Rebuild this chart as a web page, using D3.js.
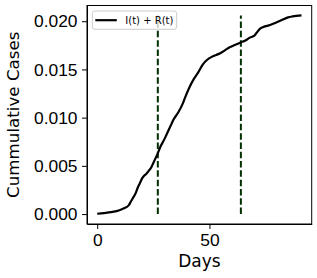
<!DOCTYPE html>
<html>
<head>
<meta charset="utf-8">
<script src="https://cdn.jsdelivr.net/npm/d3@7"></script>
<style>
  body { margin: 0; background: #fff; }
  svg { display: block; font-family: "DejaVu Sans", sans-serif; }
  .axis text { font-size: 17.4px; fill: #000; }
  .axis path, .axis line { stroke: #000; stroke-width: 1; }
</style>
</head>
<body>
<div id="chart"></div>
<script>
// cumulative I(t) + R(t)
var days = [0, 3, 6, 9, 11, 12, 14, 15, 16, 17, 18, 19, 20, 21, 22, 23, 24, 25, 26, 27, 28, 30, 31, 33, 34, 36, 38, 39, 41, 43, 45, 47, 49, 51, 53, 55, 57, 59, 61, 64, 66, 68, 70, 71, 72, 74, 77, 79, 82, 85, 87, 91];
var cases = [0.00003, 0.0001, 0.0002, 0.00033, 0.0005, 0.0006, 0.0009, 0.0013, 0.0017, 0.0021, 0.0027, 0.0032, 0.0037, 0.004, 0.0042, 0.0045, 0.0048, 0.0053, 0.0058, 0.0063, 0.0069, 0.0078, 0.0083, 0.0093, 0.0098, 0.0105, 0.0114, 0.012, 0.0131, 0.014, 0.0147, 0.0155, 0.016, 0.0163, 0.0165, 0.0167, 0.017, 0.0173, 0.0175, 0.0178, 0.018, 0.0183, 0.0185, 0.0188, 0.0191, 0.0194, 0.0196, 0.0198, 0.0201, 0.0204, 0.0205, 0.0206];
var markerDays = [27, 64];
var xTicks = [0, 50];
var yTicks = [0, 0.005, 0.01, 0.015, 0.02];

var W = 317, H = 278;
var margin = {top: 5.5, right: 5.3, bottom: 54, left: 87};
var width = W - margin.left - margin.right;
var height = H - margin.top - margin.bottom;

var data = days.map(function(d, i) { return {x: d, y: cases[i]}; });

var svg = d3.select("#chart").append("svg")
  .attr("width", W)
  .attr("height", H)
  .append("g")
  .attr("transform", "translate(" + margin.left + "," + margin.top + ")");

// matplotlib style 5% padding
var xmin = d3.min(days), xmax = d3.max(days);
var ymin = d3.min(cases), ymax = d3.max(cases);
ymin = Math.min(0, ymin);
var xpad = (xmax - xmin) * 0.05, ypad = (ymax - ymin) * 0.05;

var xScale = d3.scaleLinear()
  .domain([xmin - xpad, xmax + xpad])
  .range([0, width]);

var yScale = d3.scaleLinear()
  .domain([ymin - ypad, ymax + ypad])
  .range([height, 0]);

// dashed markers
svg.selectAll(".marker")
  .data(markerDays)
  .enter()
  .append("line")
  .attr("class", "marker")
  .attr("x1", function(d) { return xScale(d); })
  .attr("x2", function(d) { return xScale(d); })
  .attr("y1", yScale(0))
  .attr("y2", yScale(ymax))
  .attr("stroke", "#003000")
  .attr("stroke-width", 2)
  .attr("stroke-dasharray", "6.5,2.8");

var line = d3.line()
  .x(function(d) { return xScale(d.x); })
  .y(function(d) { return yScale(d.y); })
  .curve(d3.curveMonotoneX);

svg.append("path")
  .datum(data)
  .attr("fill", "none")
  .attr("stroke", "#000")
  .attr("stroke-width", 2.2)
  .attr("stroke-linejoin", "round")
  .attr("d", line);

// axes
svg.append("g")
  .attr("class", "axis")
  .attr("transform", "translate(0," + height + ")")
  .call(d3.axisBottom(xScale).tickValues(xTicks).tickSize(5).tickPadding(4.5).tickSizeOuter(0));

svg.append("g")
  .attr("class", "axis")
  .call(d3.axisLeft(yScale).tickValues(yTicks).tickFormat(d3.format(".3f")).tickSize(5).tickPadding(4.5).tickSizeOuter(0));

// frame
svg.append("rect")
  .attr("width", width)
  .attr("height", height)
  .attr("fill", "none")
  .attr("stroke", "#000")
  .attr("stroke-width", 1);

// labels
svg.append("text")
  .attr("x", width / 2)
  .attr("y", H - margin.top - 11)
  .attr("text-anchor", "middle")
  .style("font-size", "17px")
  .text("Days");

svg.append("text")
  .attr("transform", "rotate(-90)")
  .attr("x", -height / 2)
  .attr("y", 18.5 - margin.left)
  .attr("text-anchor", "middle")
  .style("font-size", "16.7px")
  .text("Cummulative Cases");

// legend
var lg = svg.append("g").attr("transform", "translate(5.3,5.5)");
lg.append("rect")
  .attr("width", 84.4)
  .attr("height", 18.3)
  .attr("rx", 2.5)
  .attr("fill", "#fff")
  .attr("fill-opacity", 0.8)
  .attr("stroke", "#ccc")
  .attr("stroke-width", 1);
lg.append("line")
  .attr("x1", 3).attr("x2", 24.5)
  .attr("y1", 9.2).attr("y2", 9.2)
  .attr("stroke", "#000")
  .attr("stroke-width", 2.2);
lg.append("text")
  .attr("x", 33)
  .attr("y", 12.8)
  .style("font-size", "10px")
  .text("I(t) + R(t)");
</script>
</body>
</html>
